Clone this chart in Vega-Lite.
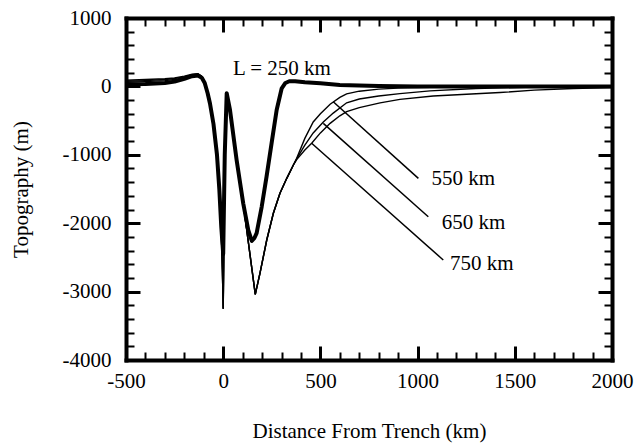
{
  "$schema": "https://vega.github.io/schema/vega-lite/v6.json",
  "width": 486,
  "height": 342,
  "autosize": {"type": "none"},
  "padding": {"left": 126, "top": 18, "right": 23, "bottom": 84},
  "background": "white",
  "config": {"view": {"stroke": null}, "font": "Liberation Serif"},
  "datasets": {
    "curves": [
      {"curve":"L250","x":-500,"y":30},{"curve":"L250","x":-400,"y":35},{"curve":"L250","x":-300,"y":50},{"curve":"L250","x":-250,"y":70},{"curve":"L250","x":-200,"y":110},{"curve":"L250","x":-160,"y":150},{"curve":"L250","x":-130,"y":160},{"curve":"L250","x":-110,"y":125},{"curve":"L250","x":-95,"y":50},{"curve":"L250","x":-80,"y":-100},{"curve":"L250","x":-68,"y":-250},{"curve":"L250","x":-50,"y":-550},{"curve":"L250","x":-32,"y":-1000},{"curve":"L250","x":-20,"y":-1500},{"curve":"L250","x":-10,"y":-2050},{"curve":"L250","x":0,"y":-2450},{"curve":"L250","x":8,"y":-1000},{"curve":"L250","x":18,"y":-100},{"curve":"L250","x":35,"y":-345},{"curve":"L250","x":69,"y":-1076},{"curve":"L250","x":103,"y":-1710},{"curve":"L250","x":129,"y":-2100},{"curve":"L250","x":147,"y":-2260},{"curve":"L250","x":160,"y":-2220},{"curve":"L250","x":172,"y":-2145},{"curve":"L250","x":198,"y":-1760},{"curve":"L250","x":223,"y":-1320},{"curve":"L250","x":249,"y":-830},{"curve":"L250","x":275,"y":-345},{"curve":"L250","x":301,"y":-28},{"curve":"L250","x":320,"y":50},{"curve":"L250","x":340,"y":75},{"curve":"L250","x":370,"y":75},{"curve":"L250","x":420,"y":60},{"curve":"L250","x":500,"y":45},{"curve":"L250","x":600,"y":20},{"curve":"L250","x":800,"y":5},{"curve":"L250","x":1000,"y":0},{"curve":"L250","x":1500,"y":0},{"curve":"L250","x":2000,"y":0},

      {"curve":"L550","x":-500,"y":60},{"curve":"L550","x":-400,"y":70},{"curve":"L550","x":-300,"y":85},{"curve":"L550","x":-250,"y":100},{"curve":"L550","x":-200,"y":130},{"curve":"L550","x":-160,"y":165},{"curve":"L550","x":-130,"y":175},{"curve":"L550","x":-110,"y":140},{"curve":"L550","x":-95,"y":55},{"curve":"L550","x":-80,"y":-100},{"curve":"L550","x":-68,"y":-250},{"curve":"L550","x":-50,"y":-550},{"curve":"L550","x":-32,"y":-1000},{"curve":"L550","x":-20,"y":-1500},{"curve":"L550","x":-10,"y":-2100},{"curve":"L550","x":-4,"y":-2700},{"curve":"L550","x":0,"y":-3250},{"curve":"L550","x":8,"y":-1200},{"curve":"L550","x":18,"y":-100},{"curve":"L550","x":35,"y":-345},{"curve":"L550","x":69,"y":-1076},{"curve":"L550","x":103,"y":-1710},{"curve":"L550","x":130,"y":-2290},{"curve":"L550","x":150,"y":-2720},{"curve":"L550","x":165,"y":-3040},{"curve":"L550","x":189,"y":-2733},{"curve":"L550","x":224,"y":-2246},{"curve":"L550","x":258,"y":-1855},{"curve":"L550","x":292,"y":-1563},{"curve":"L550","x":327,"y":-1344},{"curve":"L550","x":361,"y":-1149},{"curve":"L550","x":378,"y":-1050},{"curve":"L550","x":420,"y":-760},{"curve":"L550","x":463,"y":-520},{"curve":"L550","x":500,"y":-400},{"curve":"L550","x":550,"y":-260},{"curve":"L550","x":600,"y":-160},{"curve":"L550","x":635,"y":-110},{"curve":"L550","x":700,"y":-70},{"curve":"L550","x":800,"y":-40},{"curve":"L550","x":900,"y":-25},{"curve":"L550","x":1000,"y":-15},{"curve":"L550","x":1200,"y":-5},{"curve":"L550","x":1500,"y":0},{"curve":"L550","x":2000,"y":0},

      {"curve":"L650","x":-500,"y":75},{"curve":"L650","x":-400,"y":85},{"curve":"L650","x":-300,"y":100},{"curve":"L650","x":-250,"y":115},{"curve":"L650","x":-200,"y":140},{"curve":"L650","x":-160,"y":172},{"curve":"L650","x":-130,"y":180},{"curve":"L650","x":-110,"y":145},{"curve":"L650","x":-95,"y":58},{"curve":"L650","x":-80,"y":-100},{"curve":"L650","x":-68,"y":-250},{"curve":"L650","x":-50,"y":-550},{"curve":"L650","x":-32,"y":-1000},{"curve":"L650","x":-20,"y":-1500},{"curve":"L650","x":-10,"y":-2100},{"curve":"L650","x":-4,"y":-2700},{"curve":"L650","x":0,"y":-3250},{"curve":"L650","x":8,"y":-1200},{"curve":"L650","x":18,"y":-100},{"curve":"L650","x":35,"y":-345},{"curve":"L650","x":69,"y":-1076},{"curve":"L650","x":103,"y":-1710},{"curve":"L650","x":130,"y":-2290},{"curve":"L650","x":150,"y":-2720},{"curve":"L650","x":165,"y":-3040},{"curve":"L650","x":189,"y":-2733},{"curve":"L650","x":224,"y":-2246},{"curve":"L650","x":258,"y":-1855},{"curve":"L650","x":292,"y":-1563},{"curve":"L650","x":327,"y":-1344},{"curve":"L650","x":361,"y":-1149},{"curve":"L650","x":378,"y":-1060},{"curve":"L650","x":420,"y":-860},{"curve":"L650","x":463,"y":-680},{"curve":"L650","x":515,"y":-520},{"curve":"L650","x":566,"y":-390},{"curve":"L650","x":635,"y":-240},{"curve":"L650","x":700,"y":-185},{"curve":"L650","x":800,"y":-140},{"curve":"L650","x":909,"y":-105},{"curve":"L650","x":1064,"y":-65},{"curve":"L650","x":1300,"y":-30},{"curve":"L650","x":1600,"y":-10},{"curve":"L650","x":2000,"y":0},

      {"curve":"L750","x":-500,"y":90},{"curve":"L750","x":-400,"y":100},{"curve":"L750","x":-300,"y":112},{"curve":"L750","x":-250,"y":125},{"curve":"L750","x":-200,"y":150},{"curve":"L750","x":-160,"y":178},{"curve":"L750","x":-130,"y":185},{"curve":"L750","x":-110,"y":150},{"curve":"L750","x":-95,"y":60},{"curve":"L750","x":-80,"y":-100},{"curve":"L750","x":-68,"y":-250},{"curve":"L750","x":-50,"y":-550},{"curve":"L750","x":-32,"y":-1000},{"curve":"L750","x":-20,"y":-1500},{"curve":"L750","x":-10,"y":-2100},{"curve":"L750","x":-4,"y":-2700},{"curve":"L750","x":0,"y":-3250},{"curve":"L750","x":8,"y":-1200},{"curve":"L750","x":18,"y":-100},{"curve":"L750","x":35,"y":-345},{"curve":"L750","x":69,"y":-1076},{"curve":"L750","x":103,"y":-1710},{"curve":"L750","x":130,"y":-2290},{"curve":"L750","x":150,"y":-2720},{"curve":"L750","x":165,"y":-3040},{"curve":"L750","x":189,"y":-2733},{"curve":"L750","x":224,"y":-2246},{"curve":"L750","x":258,"y":-1855},{"curve":"L750","x":292,"y":-1563},{"curve":"L750","x":327,"y":-1344},{"curve":"L750","x":361,"y":-1149},{"curve":"L750","x":378,"y":-1070},{"curve":"L750","x":420,"y":-930},{"curve":"L750","x":455,"y":-832},{"curve":"L750","x":500,"y":-680},{"curve":"L750","x":550,"y":-540},{"curve":"L750","x":600,"y":-430},{"curve":"L750","x":635,"y":-370},{"curve":"L750","x":700,"y":-310},{"curve":"L750","x":807,"y":-240},{"curve":"L750","x":909,"y":-190},{"curve":"L750","x":1080,"y":-140},{"curve":"L750","x":1424,"y":-90},{"curve":"L750","x":1600,"y":-55},{"curve":"L750","x":1800,"y":-30},{"curve":"L750","x":2000,"y":-15}
    ],
    "leaders": [
      {"leader":"550","x":566,"y":-224},{"leader":"550","x":1004,"y":-1344},
      {"leader":"650","x":515,"y":-540},{"leader":"650","x":1055,"y":-1905},
      {"leader":"750","x":455,"y":-832},{"leader":"750","x":1132,"y":-2538}
    ],
    "labels": [
      {"x":50,"y":254,"label":"L = 250 km"},
      {"x":1072,"y":-1354,"label":"550 km"},
      {"x":1124,"y":-1990,"label":"650 km"},
      {"x":1167,"y":-2590,"label":"750 km"}
    ]
  },
  "layer": [
    {
      "encoding": {
        "x": {
          "field": "x", "type": "quantitative",
          "scale": {"domain": [-500, 2000], "nice": false, "zero": false},
          "axis": {
            "orient": "bottom",
            "values": [-500,0,500,1000,1500,2000],
            "labelExpr": "'' + datum.value",
            "labelAlign": "center",
            "ticks": false, "gridOpacity": 0,
            "domainWidth": 4, "domainColor": "black", "domainCap": "square",
            "labelFontSize": 21, "labelColor": "black", "labelPadding": 10,
            "title": "Distance From Trench (km)", "titleFontSize": 21, "titleFontWeight": "normal", "titleColor": "black", "titlePadding": 29
          }
        },
        "y": {
          "field": "y", "type": "quantitative",
          "scale": {"domain": [-4000, 1000], "nice": false, "zero": false},
          "axis": {
            "orient": "left",
            "values": [-4000,-3000,-2000,-1000,0,1000],
            "labelExpr": "'' + datum.value",
            "ticks": false, "gridOpacity": 0,
            "domainWidth": 4, "domainColor": "black", "domainCap": "square",
            "labelFontSize": 21, "labelColor": "black", "labelPadding": 15,
            "title": "Topography (m)", "titleFontSize": 21, "titleFontWeight": "normal", "titleColor": "black", "titlePadding": 31
          }
        }
      },
      "layer": [
        {
          "data": {"name": "curves"},
          "transform": [{"filter": "datum.curve !== 'L250'"}],
          "mark": {"type": "line", "color": "black", "strokeWidth": 1.4},
          "encoding": {"detail": {"field": "curve"}}
        },
        {
          "data": {"name": "curves"},
          "transform": [{"filter": "datum.curve === 'L250'"}],
          "mark": {"type": "line", "color": "black", "strokeWidth": 4, "strokeJoin": "round"}
        },
        {
          "data": {"name": "leaders"},
          "mark": {"type": "line", "color": "black", "strokeWidth": 1.5},
          "encoding": {"detail": {"field": "leader"}}
        },
        {
          "data": {"name": "labels"},
          "mark": {"type": "text", "align": "left", "baseline": "middle", "fontSize": 21, "color": "black"},
          "encoding": {"text": {"field": "label"}}
        }
      ]
    },
    {
      "data": {"name": "labels"},
      "mark": {"type": "point", "opacity": 0},
      "encoding": {
        "x": {"field": "x", "type": "quantitative",
          "axis": {"orient": "bottom", "offset": -14, "values": [-500,0,500,1000,1500,2000], "labels": false, "title": null, "gridOpacity": 0, "domain": false, "tickSize": 14, "tickWidth": 3, "tickColor": "black"}},
        "y": {"field": "y", "type": "quantitative",
          "axis": {"orient": "left", "offset": -14, "values": [-4000,-3000,-2000,-1000,0,1000], "labels": false, "title": null, "gridOpacity": 0, "domain": false, "tickSize": 14, "tickWidth": 3, "tickColor": "black"}}
      }
    },
    {
      "data": {"name": "labels"},
      "mark": {"type": "point", "opacity": 0},
      "encoding": {
        "x": {"field": "x", "type": "quantitative",
          "axis": {"orient": "bottom", "offset": -8, "values": [-400,-300,-200,-100,100,200,300,400,600,700,800,900,1100,1200,1300,1400,1600,1700,1800,1900], "labels": false, "title": null, "gridOpacity": 0, "domain": false, "tickSize": 8, "tickWidth": 2, "tickColor": "black"}},
        "y": {"field": "y", "type": "quantitative",
          "axis": {"orient": "left", "offset": -8, "values": [-3800,-3600,-3400,-3200,-2800,-2600,-2400,-2200,-1800,-1600,-1400,-1200,-800,-600,-400,-200,200,400,600,800], "labels": false, "title": null, "gridOpacity": 0, "domain": false, "tickSize": 8, "tickWidth": 2, "tickColor": "black"}}
      }
    },
    {
      "data": {"name": "labels"},
      "mark": {"type": "point", "opacity": 0},
      "encoding": {
        "x": {"field": "x", "type": "quantitative",
          "axis": {"orient": "top", "labels": false, "title": null, "gridOpacity": 0, "ticks": false, "domainWidth": 4, "domainColor": "black", "domainCap": "square"}},
        "y": {"field": "y", "type": "quantitative",
          "axis": {"orient": "right", "labels": false, "title": null, "gridOpacity": 0, "ticks": false, "domainWidth": 4, "domainColor": "black", "domainCap": "square"}}
      }
    },
    {
      "data": {"name": "labels"},
      "mark": {"type": "point", "opacity": 0},
      "encoding": {
        "x": {"field": "x", "type": "quantitative",
          "axis": {"orient": "top", "offset": -14, "values": [-500,0,500,1000,1500,2000], "labels": false, "title": null, "gridOpacity": 0, "domain": false, "tickSize": 14, "tickWidth": 3, "tickColor": "black"}},
        "y": {"field": "y", "type": "quantitative",
          "axis": {"orient": "right", "offset": -14, "values": [-4000,-3000,-2000,-1000,0,1000], "labels": false, "title": null, "gridOpacity": 0, "domain": false, "tickSize": 14, "tickWidth": 3, "tickColor": "black"}}
      }
    },
    {
      "data": {"name": "labels"},
      "mark": {"type": "point", "opacity": 0},
      "encoding": {
        "x": {"field": "x", "type": "quantitative",
          "axis": {"orient": "top", "offset": -8, "values": [-400,-300,-200,-100,100,200,300,400,600,700,800,900,1100,1200,1300,1400,1600,1700,1800,1900], "labels": false, "title": null, "gridOpacity": 0, "domain": false, "tickSize": 8, "tickWidth": 2, "tickColor": "black"}},
        "y": {"field": "y", "type": "quantitative",
          "axis": {"orient": "right", "offset": -8, "values": [-3800,-3600,-3400,-3200,-2800,-2600,-2400,-2200,-1800,-1600,-1400,-1200,-800,-600,-400,-200,200,400,600,800], "labels": false, "title": null, "gridOpacity": 0, "domain": false, "tickSize": 8, "tickWidth": 2, "tickColor": "black"}}
      }
    }
  ],
  "resolve": {"axis": {"x": "independent", "y": "independent"}}
}
